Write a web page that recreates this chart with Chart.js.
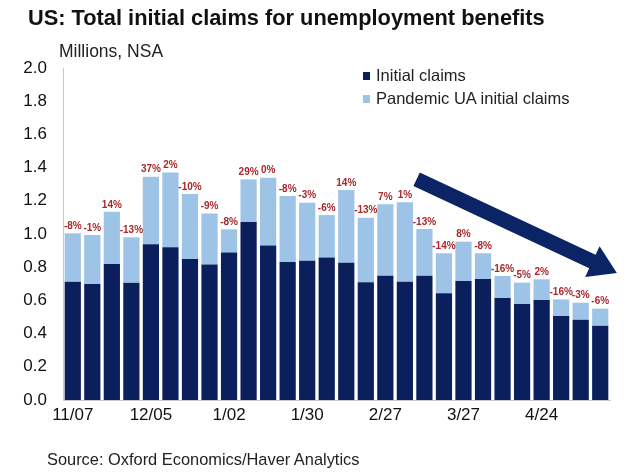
<!DOCTYPE html>
<html>
<head>
<meta charset="utf-8">
<script src="https://cdn.jsdelivr.net/npm/chart.js@4/dist/chart.umd.min.js"></script>
<style>
    body { margin: 0; background: #fff; font-family: "Liberation Sans", Arial, sans-serif; }
    #wrap { position: relative; width: 630px; height: 476px; }
    #chart { position: absolute; left: 0; top: 0; }
    .txt { position: absolute; color: #111; white-space: nowrap; }
    #title { left: 28px; top: 5px; font-size: 21.8px; font-weight: bold; }
    #unit { left: 59px; top: 41px; font-size: 17.5px; color: #222; }
    #source { left: 47px; top: 450px; font-size: 16.4px; color: #222; }
    .leg { position: absolute; left: 363px; font-size: 16.5px; color: #222; }
    .leg span { display: inline-block; width: 7px; height: 8px; margin-right: 6px; vertical-align: 1px; }
</style>
</head>
<body>
<div id="wrap">
    <canvas id="chart" width="630" height="476"></canvas>
    <div class="txt" id="title">US: Total initial claims for unemployment benefits</div>
    <div class="txt" id="unit">Millions, NSA</div>
    <div class="leg" style="top:66px"><span style="background:#0a1f5c"></span>Initial claims</div>
    <div class="leg" style="top:89px"><span style="background:#9dc3e6"></span>Pandemic UA initial claims</div>
    <div class="txt" id="source">Source: Oxford Economics/Haver Analytics</div>
</div>
<script>
// weekly, millions, not seasonally adjusted
const weeks = ["11/07", "11/14", "11/21", "11/28", "12/05", "12/12", "12/19", "12/26",
    "1/02", "1/09", "1/16", "1/23", "1/30", "2/06", "2/13", "2/20",
    "2/27", "3/06", "3/13", "3/20", "3/27", "4/03", "4/10", "4/17",
    "4/24", "5/01", "5/08", "5/15"];

const initialClaims = [0.713, 0.699, 0.819, 0.707, 0.938, 0.920, 0.849, 0.817,
    0.888, 1.072, 0.930, 0.831, 0.839, 0.859, 0.827, 0.709,
    0.749, 0.713, 0.749, 0.643, 0.717, 0.729, 0.614, 0.578,
    0.602, 0.506, 0.484, 0.448];

const pandemicClaims = [0.291, 0.295, 0.315, 0.273, 0.407, 0.451, 0.392, 0.307,
    0.140, 0.257, 0.409, 0.398, 0.350, 0.255, 0.438, 0.389,
    0.430, 0.478, 0.281, 0.241, 0.237, 0.155, 0.133, 0.129,
    0.125, 0.100, 0.102, 0.102];

// week-on-week change in total claims, as printed above the bars
const changeLabels = ["-8%", "-1%", "14%", "-13%", "37%", "2%", "-10%", "-9%",
    "-8%", "29%", "0%", "-8%", "-3%", "-6%", "14%", "-13%",
    "7%", "1%", "-13%", "-14%", "8%", "-8%", "-16%", "-5%",
    "2%", "-16%", "-3%", "-6%"];

const yTicks = [0, 0.2, 0.4, 0.6, 0.8, 1.0, 1.2, 1.4, 1.6, 1.8, 2.0];

const NAVY = "#0a1f5c";
const LIGHT = "#9dc3e6";

/* percentage labels on top of each stack */
const changePlugin = {
    id: "changeLabels",
    afterDatasetsDraw(chart) {
        const ctx = chart.ctx;
        const top = chart.getDatasetMeta(1);
        ctx.save();
        ctx.font = "bold 10px 'Liberation Sans', Arial, sans-serif";
        ctx.fillStyle = "#a8282c";
        ctx.textAlign = "center";
        ctx.textBaseline = "bottom";
        top.data.forEach((bar, i) => {
            ctx.fillText(changeLabels[i], bar.x, bar.y - 2);
        });
        ctx.restore();
    }
};

/* the big downward trend arrow, placed in data space */
const arrowPlugin = {
    id: "trendArrow",
    afterDatasetsDraw(chart) {
        const xs = chart.scales.x, ys = chart.scales.y;
        const x0 = xs.getPixelForValue(17.6), y0 = ys.getPixelForValue(1.33);
        const x1 = xs.getPixelForValue(27.85), y1 = ys.getPixelForValue(0.765);
        const ang = Math.atan2(y1 - y0, x1 - x0);
        const len = Math.hypot(x1 - x0, y1 - y0);
        const half = 7.5, headLen = 27, headHalf = 17;
        const ctx = chart.ctx;
        ctx.save();
        ctx.translate(x0, y0);
        ctx.rotate(ang);
        ctx.beginPath();
        ctx.moveTo(0, -half);
        ctx.lineTo(len - headLen, -half);
        ctx.lineTo(len - headLen, -headHalf);
        ctx.lineTo(len, 0);
        ctx.lineTo(len - headLen, headHalf);
        ctx.lineTo(len - headLen, half);
        ctx.lineTo(0, half);
        ctx.closePath();
        ctx.fillStyle = "#0b2466";
        ctx.fill();
        ctx.restore();
    }
};

new Chart(document.getElementById("chart"), {
    type: "bar",
    data: {
        labels: weeks,
        datasets: [
            {
                label: "Initial claims",
                data: initialClaims,
                backgroundColor: NAVY,
                barPercentage: 0.83,
                categoryPercentage: 1.0
            },
            {
                label: "Pandemic UA initial claims",
                data: pandemicClaims,
                backgroundColor: LIGHT,
                barPercentage: 0.83,
                categoryPercentage: 1.0
            }
        ]
    },
    options: {
        responsive: false,
        animation: false,
        layout: { padding: { top: 68, right: 20, left: 0, bottom: 0 } },
        plugins: {
            legend: { display: false },
            tooltip: { enabled: false }
        },
        scales: {
            x: {
                stacked: true,
                grid: { display: false, drawTicks: false },
                border: { color: "#c8c8c8", width: 1 },
                ticks: {
                    autoSkip: false,
                    maxRotation: 0,
                    padding: 5,
                    color: "#111",
                    font: { family: "'Liberation Sans', Arial, sans-serif", size: 17 },
                    callback: function(value, index) {
                        return index % 4 === 0 ? weeks[index] : "";
                    }
                },
                afterFit: function(scale) { scale.height = 76; }
            },
            y: {
                stacked: true,
                min: 0,
                max: 2.0,
                grid: { display: false, drawTicks: false },
                border: { color: "#c8c8c8", width: 1 },
                afterBuildTicks: function(scale) {
                    scale.ticks = yTicks.map((v) => ({ value: v }));
                },
                ticks: {
                    padding: 16,
                    color: "#111",
                    font: { family: "'Liberation Sans', Arial, sans-serif", size: 17 },
                    callback: function(value) { return value.toFixed(1); }
                },
                afterFit: function(scale) { scale.width = 63; }
            }
        }
    },
    plugins: [changePlugin, arrowPlugin]
});
</script>
</body>
</html>
